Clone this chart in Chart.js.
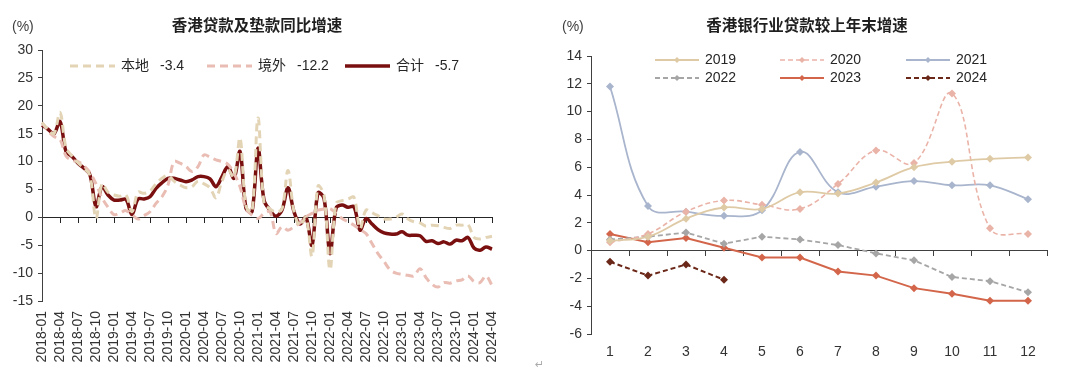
<!DOCTYPE html>
<html>
<head>
<meta charset="utf-8">
<script src="https://cdn.jsdelivr.net/npm/chart.js@4.4.1/dist/chart.umd.min.js"></script>
<style>
  body { margin: 0; background: #fff; width: 1080px; height: 376px; position: relative; overflow: hidden; }
  canvas { position: absolute; top: 0; }
  #loanChart { left: 0; }
  #ytdChart { left: 540px; }
  .mark { position: absolute; left: 535px; top: 358px; font: 11px "DejaVu Sans", sans-serif; color: #aaa; }
</style>
</head>
<body>
<canvas id="loanChart" width="540" height="376"></canvas>
<canvas id="ytdChart" width="540" height="376"></canvas>
<span class="mark">↵</span>
<script>
/* HK loans & advances — yoy growth (left) + growth vs prior year end (right) */
var FONT = 'Arial, "Liberation Sans", "Noto Sans CJK SC", sans-serif';

// left chart
var months = ['2018-01','2018-02','2018-03','2018-04','2018-05','2018-06','2018-07','2018-08','2018-09','2018-10','2018-11','2018-12',
              '2019-01','2019-02','2019-03','2019-04','2019-05','2019-06','2019-07','2019-08','2019-09','2019-10','2019-11','2019-12',
              '2020-01','2020-02','2020-03','2020-04','2020-05','2020-06','2020-07','2020-08','2020-09','2020-10','2020-11','2020-12',
              '2021-01','2021-02','2021-03','2021-04','2021-05','2021-06','2021-07','2021-08','2021-09','2021-10','2021-11','2021-12',
              '2022-01','2022-02','2022-03','2022-04','2022-05','2022-06','2022-07','2022-08','2022-09','2022-10','2022-11','2022-12',
              '2023-01','2023-02','2023-03','2023-04','2023-05','2023-06','2023-07','2023-08','2023-09','2023-10','2023-11','2023-12',
              '2024-01','2024-02','2024-03','2024-04'];
var localGrowth = [17.0,15.8,15.0,18.8,12.5,11.0,9.8,8.8,7.5,-0.2,6.0,4.5,
                   4.0,3.8,4.0,1.0,4.5,4.3,4.7,6.0,7.0,7.5,6.5,5.8,
                   5.3,5.5,6.5,6.0,5.3,3.5,6.5,8.5,7.2,14.2,2.0,1.0,
                   17.8,2.5,1.5,1.0,1.5,8.4,1.0,-1.5,0.0,-7.0,5.6,4.0,
                   -9.4,2.5,3.0,3.3,3.6,-2.0,1.3,0.8,0.3,-0.3,-0.3,0.0,
                   0.6,-0.3,-0.8,-1.0,-1.6,-1.4,-1.5,-1.8,-2.0,-1.4,-1.4,-1.3,
                   -3.6,-3.9,-3.6,-3.4];
var overseasGrowth = [17.0,15.5,14.5,14.0,11.0,10.2,10.0,9.2,8.0,6.0,3.5,1.8,
                      0.5,0.8,1.2,0.5,-0.3,0.3,1.0,2.5,3.7,5.8,10.0,9.7,
                      9.1,8.2,9.1,11.2,10.8,10.3,10.0,9.5,7.9,5.5,1.6,0.4,
                      -0.2,0.7,1.0,-2.9,-1.7,-2.3,-1.7,-1.0,0.1,0.7,1.3,1.5,
                      1.6,0.7,-0.2,-0.8,-1.4,-2.2,-2.9,-4.7,-6.5,-7.9,-9.4,-10.0,
                      -10.2,-10.4,-10.5,-9.2,-10.8,-12.0,-12.5,-11.7,-11.8,-11.4,-11.2,-10.5,
                      -11.5,-11.7,-10.5,-12.2];
var totalGrowth = [16.5,15.8,15.0,17.2,11.8,10.9,9.7,8.8,7.6,1.9,5.5,4.0,
                   3.1,3.1,3.2,0.5,3.3,3.3,3.7,5.2,6.2,7.0,7.0,6.7,
                   6.4,6.7,7.3,7.3,6.9,5.5,7.3,9.1,7.0,11.8,1.6,1.0,
                   12.4,3.1,1.3,0.2,1.3,5.3,1.0,-1.2,0.0,-5.0,4.4,3.4,
                   -6.5,1.6,2.2,1.8,1.9,-2.3,-0.2,-1.2,-2.2,-2.8,-3.0,-3.0,
                   -2.6,-3.2,-3.2,-3.3,-4.3,-4.2,-4.7,-4.4,-4.8,-4.1,-4.2,-3.6,
                   -5.5,-5.9,-5.3,-5.7];

// right chart
var monthNums = ['1','2','3','4','5','6','7','8','9','10','11','12'];
var ytd2019 = [0.7,1.0,2.3,3.1,3.0,4.2,4.1,4.9,6.0,6.4,6.6,6.7];
var ytd2020 = [0.6,1.2,2.8,3.6,3.3,3.0,4.8,7.2,6.3,11.3,1.6,1.2];
var ytd2021 = [11.8,3.2,2.8,2.5,2.9,7.1,4.2,4.6,5.0,4.7,4.7,3.7];
var ytd2022 = [0.8,1.0,1.3,0.5,1.0,0.8,0.4,-0.2,-0.7,-1.9,-2.2,-3.0];
var ytd2023 = [1.2,0.6,0.9,0.2,-0.5,-0.5,-1.5,-1.8,-2.7,-3.1,-3.6,-3.6];
var ytd2024 = [-0.8,-1.8,-1.0,-2.1];

// titles, unit label and hand-placed legend
var decor = {
    id: 'decor',
    afterDraw: function(chart, args, o) {
        var ctx = chart.ctx;
        ctx.save();
        ctx.fillStyle = '#1f1f1f';
        ctx.textBaseline = 'middle';
        ctx.textAlign = 'center';
        ctx.font = 'bold 15.5px ' + FONT;
        ctx.fillText(o.title, o.titleX, o.titleY);
        ctx.textAlign = 'left';
        ctx.font = '14px ' + FONT;
        ctx.fillStyle = '#404040';
        ctx.fillText('(%)', o.unitX, o.titleY);

        ctx.fillStyle = '#262626';
        chart.data.datasets.forEach(function(ds, i) {
            var x = o.cols[i % o.cols.length], y = o.rows[Math.floor(i / o.cols.length)];
            ctx.strokeStyle = ds.borderColor;
            ctx.lineWidth = ds.borderWidth;
            ctx.setLineDash(ds.borderDash || []);
            ctx.beginPath(); ctx.moveTo(x, y); ctx.lineTo(x + o.lineLen, y); ctx.stroke();
            ctx.setLineDash([]);
            if (o.marker) {
                var cx = x + o.lineLen / 2, r = o.marker;
                ctx.fillStyle = ds.borderColor;
                ctx.beginPath(); ctx.moveTo(cx - r, y); ctx.lineTo(cx, y - r); ctx.lineTo(cx + r, y); ctx.lineTo(cx, y + r); ctx.closePath(); ctx.fill();
                ctx.fillStyle = '#262626';
            }
            ctx.fillText(ds.label, x + o.lineLen + 6, y);
            if (o.valueOffset) ctx.fillText(ds.data[ds.data.length - 1].toFixed(1), x + o.valueOffset, y);
        });
        ctx.restore();
    }
};

function yAxis(min, max, step, width) {
    return {
        min: min, max: max,
        border: { color: '#404040' },
        grid: { drawOnChartArea: false, drawTicks: true, tickLength: 4, color: '#404040' },
        ticks: { stepSize: step, padding: 5, color: '#333', font: { family: FONT, size: 14 } },
        afterFit: function(s) { s.width = width; }
    };
}

new Chart(document.getElementById('loanChart').getContext('2d'), {
    type: 'line',
    data: {
        labels: months,
        datasets: [
            { label: '本地', data: localGrowth, xAxisID: 'x', borderColor: '#E3D4B6', borderWidth: 3, borderDash: [8, 5], pointRadius: 0, tension: 0.35 },
            { label: '境外', data: overseasGrowth, xAxisID: 'x', borderColor: '#E9BDB3', borderWidth: 3, borderDash: [8, 5], pointRadius: 0, tension: 0.35 },
            { label: '合计', data: totalGrowth, xAxisID: 'x', borderColor: '#7A0F0F', borderWidth: 3.5, pointRadius: 0, tension: 0.35 }
        ]
    },
    options: {
        responsive: false, animation: false,
        layout: { padding: { top: 50, right: 48, bottom: 0, left: 0 } },
        plugins: {
            legend: { display: false }, tooltip: { enabled: false },
            decor: { title: '香港贷款及垫款同比增速', titleX: 257, titleY: 27, unitX: 12,
                     cols: [70, 207, 345], rows: [66], lineLen: 45, valueOffset: 90 }
        },
        scales: {
            x: {
                type: 'category', position: 'bottom', offset: false,
                border: { display: false }, grid: { display: false, drawTicks: false },
                ticks: { autoSkip: false, minRotation: 90, maxRotation: 90, padding: 10, color: '#333', font: { family: FONT, size: 14 },
                         callback: function(v, i) { return i % 3 === 0 ? months[i] : ''; } },
                afterFit: function(s) { s.height = 75; }
            },
            x0: {
                type: 'category', position: { y: 0 }, offset: false,
                border: { color: '#262626' },
                grid: { drawOnChartArea: false, drawTicks: true, tickLength: 5,
                        color: function(c) { return c.index % 3 === 0 ? '#262626' : 'rgba(0,0,0,0)'; } },
                ticks: { display: false, autoSkip: false }
            },
            y: yAxis(-15, 30, 5, 42)
        }
    },
    plugins: [decor]
});

var yearColors = ['#DFCAA6', '#EAB3A8', '#A9B5CD', '#A6A6A6', '#D3664A', '#6B2819'];
var yearData = [ytd2019, ytd2020, ytd2021, ytd2022, ytd2023, ytd2024];
var yearDash = [[], [5, 3], [], [5, 3], [], [5, 3]];
var yearWidth = [1.8, 1.6, 1.8, 1.8, 2, 2];
var yearTension = [0.4, 0.4, 0.4, 0, 0, 0];
var yearLabels = ['2019', '2020', '2021', '2022', '2023', '2024'];

new Chart(document.getElementById('ytdChart').getContext('2d'), {
    type: 'line',
    data: {
        labels: monthNums,
        datasets: yearLabels.map(function(y, i) {
            return { label: y, data: yearData[i], xAxisID: 'x', borderColor: yearColors[i], backgroundColor: yearColors[i],
                     borderWidth: yearWidth[i], borderDash: yearDash[i], tension: yearTension[i],
                     pointStyle: 'rectRot', pointRadius: 4, pointBorderWidth: 0, pointBackgroundColor: yearColors[i] };
        })
    },
    options: {
        responsive: false, animation: false,
        layout: { padding: { top: 56, right: 33, bottom: 0, left: 0 } },
        plugins: {
            legend: { display: false }, tooltip: { enabled: false },
            decor: { title: '香港银行业贷款较上年末增速', titleX: 267, titleY: 27, unitX: 22,
                     cols: [115, 240, 366], rows: [60, 78], lineLen: 44, marker: 3 }
        },
        scales: {
            x: {
                type: 'category', position: 'bottom', offset: true,
                border: { display: false }, grid: { display: false, drawTicks: false },
                ticks: { padding: 10, color: '#333', font: { family: FONT, size: 14 } },
                afterFit: function(s) { s.height = 42; }
            },
            x0: {
                type: 'category', position: { y: 0 }, offset: true,
                border: { color: '#404040' },
                grid: { offset: true, drawOnChartArea: false, drawTicks: true, tickLength: 5, color: '#404040' },
                ticks: { display: false }
            },
            y: yAxis(-6, 14, 2, 51)
        }
    },
    plugins: [decor]
});
</script>
</body>
</html>
